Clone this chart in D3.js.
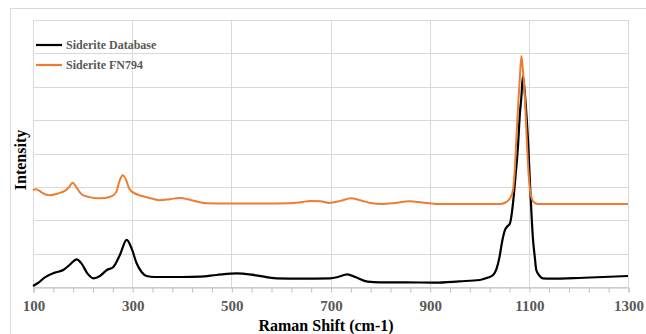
<!DOCTYPE html>
<html>
<head>
<meta charset="utf-8">
<script src="https://cdn.jsdelivr.net/npm/d3@7"></script>
<style>
  html, body { margin: 0; padding: 0; background: #fff; }
  svg { display: block; font-family: "Liberation Serif", "Times New Roman", serif; }
</style>
</head>
<body>
<svg id="chart" width="646" height="334"></svg>
<script>
// ---- Data ----
const seriesNames = ["Siderite Database", "Siderite FN794"];
const seriesColors = ["#000000", "#ED7D31"];

const databaseShift = [100,110,124,144,161,175,188,198,210,222,235,249,262,275,289,299,309,319,329,345,369,400,437,470,511,550,591,640,699,715,734,750,775,800,850,912,960,1001,1015,1028,1035,1041,1046,1052,1057,1062,1068,1073,1078,1082,1085,1088,1092,1095,1099,1102,1105,1108,1112,1115,1122,1128,1145,1200,1250,1300];
const databaseIntensity = [0.03,0.12,0.29,0.43,0.51,0.68,0.83,0.70,0.40,0.26,0.33,0.51,0.60,0.95,1.41,1.15,0.71,0.45,0.33,0.30,0.30,0.30,0.31,0.36,0.41,0.35,0.26,0.25,0.26,0.30,0.38,0.30,0.16,0.14,0.14,0.13,0.17,0.21,0.27,0.36,0.55,0.91,1.35,1.71,1.82,1.91,2.5,3.3,4.2,5.2,5.7,6.32,5.8,5.2,4.2,3.2,2.3,1.5,0.9,0.51,0.33,0.26,0.25,0.27,0.30,0.33];

const fnShift = [100,106,115,125,134,150,164,172,180,187,198,212,228,245,259,268,275,281,288,294,300,322,340,356,376,396,420,450,500,560,618,640,660,680,697,720,741,760,780,805,830,859,885,912,960,1000,1043,1055,1062,1068,1072,1075,1079,1082,1085,1088,1092,1095,1099,1102,1106,1112,1118,1200,1300];
const fnIntensity = [2.90,2.93,2.86,2.77,2.75,2.80,2.88,2.98,3.12,3.00,2.78,2.70,2.66,2.67,2.72,2.85,3.20,3.35,3.20,2.95,2.85,2.72,2.65,2.60,2.63,2.67,2.60,2.51,2.50,2.50,2.51,2.54,2.58,2.57,2.52,2.58,2.66,2.60,2.52,2.49,2.52,2.57,2.53,2.49,2.49,2.49,2.49,2.55,2.66,2.9,3.6,4.5,5.6,6.3,6.92,6.5,5.7,4.7,3.5,2.95,2.65,2.52,2.49,2.49,2.49];

const xTickLabels = [100,300,500,700,900,1100,1300];
const xMinorTicks = d3.range(100, 1301, 40);
const yGridValues = [0,1,2,3,4,5,6,7,8];

// ---- Layout ----
const svg = d3.select("#chart");
const plot = { left: 33, right: 628, top: 20, bottom: 287 };

const x = d3.scaleLinear().domain([100, 1300]).range([plot.left, plot.right]);
const y = d3.scaleLinear().domain([0, 8]).range([plot.bottom, plot.top]);

// outer chart border
svg.append("rect")
  .attr("x", 10.5).attr("y", 8.5)
  .attr("width", 660).attr("height", 360)
  .attr("fill", "#fff").attr("stroke", "#d9d9d9").attr("stroke-width", 1);

// gridlines
const grid = svg.append("g");
grid.selectAll("line.h").data(yGridValues).join("line")
  .attr("x1", plot.left).attr("x2", plot.right)
  .attr("y1", d => Math.round(y(d)) + 0.5).attr("y2", d => Math.round(y(d)) + 0.5)
  .attr("stroke", "#d9d9d9").attr("stroke-width", 1);
grid.selectAll("line.v").data(xTickLabels).join("line")
  .attr("x1", d => Math.round(x(d)) + 0.5).attr("x2", d => Math.round(x(d)) + 0.5)
  .attr("y1", plot.top).attr("y2", plot.bottom)
  .attr("stroke", "#d9d9d9").attr("stroke-width", 1);

// x axis
const xAxis = d3.axisBottom(x)
  .tickValues(xMinorTicks)
  .tickSize(5)
  .tickFormat(d => xTickLabels.includes(d) ? d : "");
const ax = svg.append("g")
  .attr("transform", `translate(0.5,${Math.round(y(0)) + 0.5})`)
  .call(xAxis);
ax.select(".domain").attr("stroke", "#bfbfbf").attr("stroke-width", 1);
ax.selectAll(".tick line").attr("stroke", "#bfbfbf");
ax.selectAll(".tick text")
  .attr("fill", "#595959")
  .attr("font-family", "Liberation Serif, serif")
  .attr("font-size", "15px")
  .attr("font-weight", "bold")
  .attr("dy", null)
  .attr("y", 23);

// lines
const lineGen = d3.line()
  .x(d => x(d[0]))
  .y(d => y(d[1]))
  .curve(d3.curveMonotoneX);

const dbData = databaseShift.map((s, i) => [s, databaseIntensity[i]]);
const fnData = fnShift.map((s, i) => [s, fnIntensity[i]]);

svg.append("path").datum(dbData)
  .attr("d", lineGen).attr("fill", "none")
  .attr("stroke", seriesColors[0]).attr("stroke-width", 2.2)
  .attr("stroke-linejoin", "round");
svg.append("path").datum(fnData)
  .attr("d", lineGen).attr("fill", "none")
  .attr("stroke", seriesColors[1]).attr("stroke-width", 2)
  .attr("stroke-linejoin", "round");

// legend
const legend = svg.append("g");
const legendY = [45, 65];
seriesNames.forEach((name, i) => {
  legend.append("line")
    .attr("x1", 36).attr("x2", 62)
    .attr("y1", legendY[i]).attr("y2", legendY[i])
    .attr("stroke", seriesColors[i]).attr("stroke-width", 2.2);
  legend.append("text")
    .attr("x", 66).attr("y", legendY[i] + 4)
    .attr("fill", "#595959")
    .attr("font-size", "12px").attr("font-weight", "bold")
    .text(name);
});

// axis titles
svg.append("text")
  .attr("x", 326).attr("y", 331)
  .attr("text-anchor", "middle")
  .attr("font-size", "16px").attr("font-weight", "bold")
  .attr("fill", "#000")
  .text("Raman Shift (cm-1)");

svg.append("text")
  .attr("transform", "translate(26,160) rotate(-90)")
  .attr("text-anchor", "middle")
  .attr("font-size", "16px").attr("font-weight", "bold")
  .attr("fill", "#000")
  .text("Intensity");
</script>
</body>
</html>
